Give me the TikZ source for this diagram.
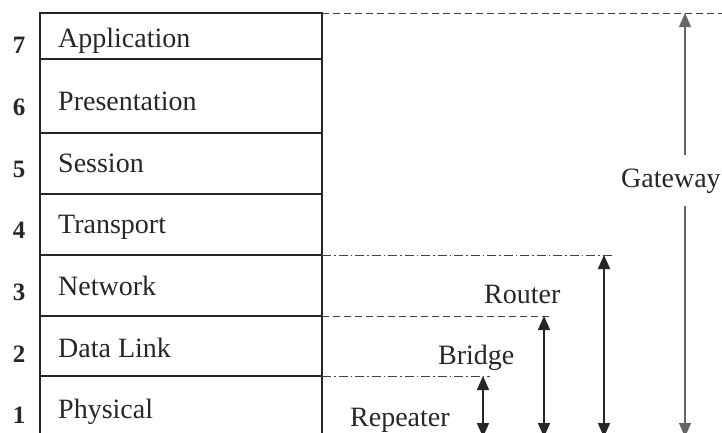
\documentclass[tikz,border=0pt]{standalone}
\usepackage{fontspec}
\setmainfont{Liberation Serif}
\usetikzlibrary{arrows.meta}
\begin{document}
\begin{tikzpicture}[x=1pt,y=-1pt,
  font=\fontsize{28}{31}\selectfont,
  boxline/.style={line width=1.2pt,draw=black!85},
  layertext/.style={anchor=base west,inner sep=0pt,text=black!85},
  num/.style={anchor=base,inner sep=0pt,font=\fontsize{25}{28}\selectfont\bfseries,text=black!85},
  devtext/.style={anchor=base west,inner sep=0pt,text=black!85},
  dashline/.style={line width=1pt,draw=black!75,dash pattern=on 7pt off 4pt},
  dotdash/.style={line width=1pt,draw=black!75,dash pattern=on 9pt off 3pt on 1.5pt off 3pt},
  arr/.style={line width=1.6pt,draw=black!85,{Triangle[length=14pt,width=12pt]}-{Triangle[length=14pt,width=12pt]}},
  garr/.style={line width=1.2pt,draw=black!60,-{Triangle[length=14pt,width=12pt]}}
]
\useasboundingbox (0,0) rectangle (722,432);
% boundaries on right edge of stack
\coordinate (b7) at (322,13);
\coordinate (b4) at (322,255);
\coordinate (b3) at (322,316);
\coordinate (b2) at (322,376);
% layer stack
\draw[boxline] (40,445) -- (40,13) -- (322,13) -- (322,445);
\foreach \y in {59,133,194,255,316,376}{\draw[boxline] (40,\y) -- (322,\y);}
% layer labels
\node[layertext] (l7) at (58,47) {Application};
\node[layertext] (l6) at (58,110) {Presentation};
\node[layertext] (l5) at (58,172) {Session};
\node[layertext] (l4) at (58,233) {Transport};
\node[layertext] (l3) at (58,295) {Network};
\node[layertext] (l2) at (58,357) {Data Link};
\node[layertext] (l1) at (58,418) {Physical};
\node[num] (n7) at (19,53) {7};
\node[num] (n6) at (19,115) {6};
\node[num] (n5) at (19,177) {5};
\node[num] (n4) at (19,238) {4};
\node[num] (n3) at (19,300) {3};
\node[num] (n2) at (19,362) {2};
\node[num] (n1) at (19,423) {1};
% arrow end points
\coordinate (gtop) at (685,13);
\coordinate (gbot) at (685,437);
\coordinate (rtop) at (604,255);
\coordinate (rbot) at (604,437);
\coordinate (btop) at (544,316);
\coordinate (bbot) at (544,437);
\coordinate (ptop) at (483,376);
\coordinate (pbot) at (483,437);
% extension lines
\draw[dashline] (b7) -- (722,13);
\draw[dotdash] (b4) -- (612,255);
\draw[dashline] (b3) -- (550,316);
\draw[dotdash] (b2) -- (490,376);
% device labels
\node[devtext] (gw) at (621,187) {Gateway};
\node[devtext] (rt) at (484,303) {Router};
\node[devtext] (br) at (438,364) {Bridge};
\node[devtext] (rp) at (350,426) {Repeater};
% arrows
\draw[garr] (gtop |- 0,155) -- (gtop);
\draw[garr] (gtop |- 0,206) -- (gbot);
\draw[arr] (rtop) -- (rbot);
\draw[arr] (btop) -- (bbot);
\draw[arr] (ptop) -- (pbot);
\end{tikzpicture}
\end{document}
